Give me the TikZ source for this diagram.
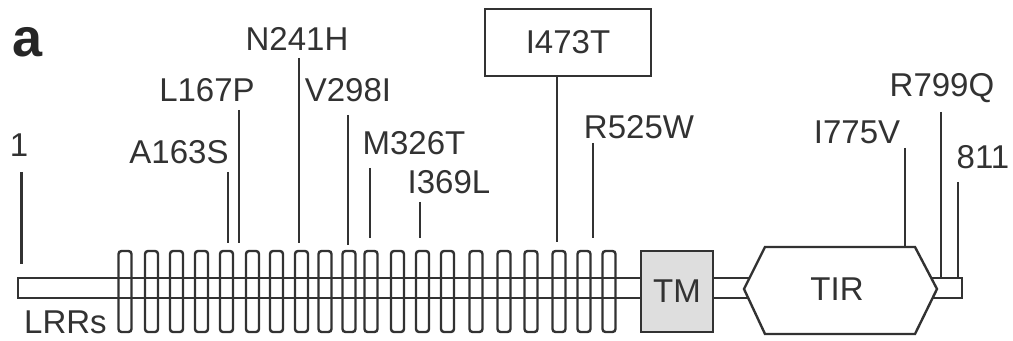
\documentclass[tikz,border=0pt]{standalone}
\usepackage{fontspec}
\setmainfont{Liberation Sans}
\usetikzlibrary{positioning}
\definecolor{inkgray}{RGB}{50,50,50}
\definecolor{tmgray}{RGB}{222,222,222}

\begin{document}
\begin{tikzpicture}[x=0.5pt, y=-0.5pt,
        lbl/.style={font=\fontsize{16.5}{18}\selectfont, text=inkgray, inner sep=0pt},
        tick/.style={draw=inkgray, line width=1.4pt},
        outline/.style={draw=inkgray, line width=1.2pt},
        lrr/.style={outline, fill=white, rounded corners=1.5pt}
    ]
    \useasboundingbox (0,0) rectangle (1013,341);

    % 1. Panel letter
    \node[font=\fontsize{27}{30}\selectfont\bfseries, text=black!85, inner sep=0pt] (panel) at (27.5,42) {a};

    % 2. LRR blocks
    \foreach \cx in {125,151.5,176.5,201.5,226.5,252.5,276.5,301.5,325,349,371,397.5,422.5,447.5,476,504,531,559,584,609}
        \draw[lrr] ({\cx-6.5},251) rectangle ({\cx+6.5},332);

    % 3. Backbone
    \draw[outline] (18,278) rectangle (641,298);
    \draw[outline] (713,278) -- (752,278) (713,298) -- (752,298);
    \draw[outline] (928,278) -- (962,278) -- (962,298) -- (928,298);

    % 4. TM and TIR domains
    \node[outline, fill=tmgray, lbl, minimum width=36pt, minimum height=40.5pt] (tm) at (677,291.5) {TM};
    \draw[outline, fill=white] (744,289) -- (765,247) -- (915,247) -- (937,289) -- (915,334) -- (765,334) -- cycle;
    \node[lbl] (tir) at (837,289) {TIR};
    \node[lbl] (lrrs) at (65.5,322.5) {LRRs};

    % 5. Mutation sites
    \foreach \nm/\txt/\lx/\ly/\tx/\ttop/\tbot in {
            one/1/19/145/21.5/172/264,
            a163s/A163S/179/152/228/172/243,
            l167p/L167P/207/90/239/110/243,
            n241h/N241H/297/38.5/299/58/243,
            v298i/V298I/348/90/348/115/245,
            m326t/M326T/414/143/370/168/238,
            i369l/I369L/449/182/420/202/238,
            r525w/R525W/639/127/593/143/238,
            i775v/I775V/857/132/905/148/247,
            r799q/R799Q/942/88/941/112/278,
            end811/811/983/157/958/182/278}
    {
        \node[lbl] (\nm) at (\lx,\ly) {\txt};
        \coordinate (\nm-top) at (\tx,\ttop);
        \coordinate (\nm-end) at (\tx,\tbot);
        \draw[tick] (\nm-top) -- (\nm-end);
    }

    % boxed site
    \node[lbl, outline, minimum width=83pt, minimum height=33.5pt] (i473t) at (568,42.5) {I473T};
    \coordinate (i473t-end) at (557,242);
    \draw[tick] (i473t.south -| i473t-end) -- (i473t-end);

\end{tikzpicture}
\end{document}
